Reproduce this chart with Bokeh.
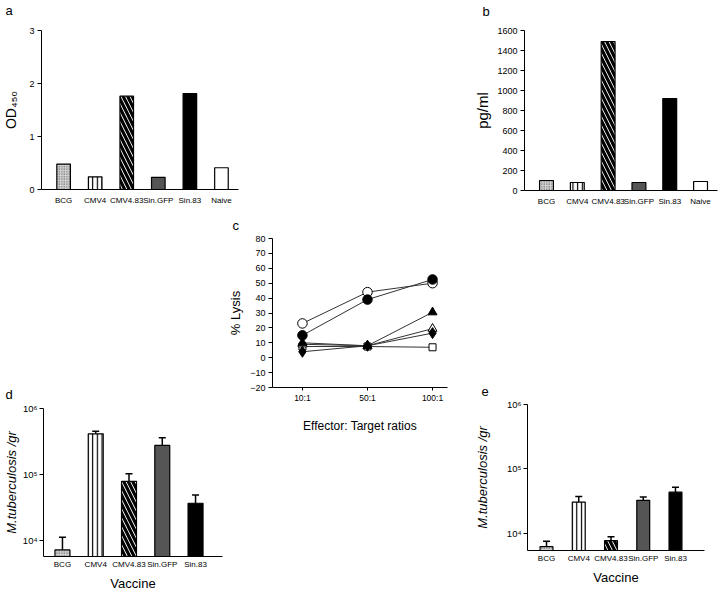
from bokeh.plotting import figure
from bokeh.layouts import row, column
from bokeh.models import (Range1d, FixedTicker, Whisker, TeeHead, ColumnDataSource,
                          Spacer, Title)
from bokeh.embed import file_html
from bokeh.resources import INLINE

FONT = "Liberation Sans"

# ---------------- data ----------------
groups_ab = ["BCG", "CMV4", "CMV4.83", "Sin.GFP", "Sin.83", "Naive"]
od450 = [0.48, 0.24, 1.76, 0.23, 1.81, 0.41]
ifn_pg_ml = [100, 80, 1490, 80, 920, 90]

ratios = ["10:1", "50:1", "100:1"]
lysis_open_circle = [23, 44, 50]
lysis_filled_circle = [15, 39, 52.5]
lysis_filled_triangle = [10, 8, 30.5]
lysis_open_triangle = [9, 8, 19.5]
lysis_filled_diamond = [4, 8, 16.5]
lysis_open_square = [7.5, 7.5, 7]

groups_de = ["BCG", "CMV4", "CMV4.83", "Sin.GFP", "Sin.83"]
cfu_d = [7200, 414000, 79000, 276000, 36700]
cfu_d_upper = [11200, 453000, 103000, 360000, 49000]
cfu_e = [6240, 30700, 7730, 32700, 43700]
cfu_e_upper = [7600, 37500, 8900, 36700, 52000]

# ---------------- styles ----------------
BAR_STYLE = {
    "BCG": dict(fill_color="#d4d4d4", hatch_pattern=".", hatch_color="#444444",
                hatch_scale=2.5, hatch_weight=0.8),
    "CMV4": dict(fill_color="white", hatch_pattern="|", hatch_color="black",
                 hatch_scale=4.7, hatch_weight=1.2),
    "CMV4.83": dict(fill_color="white", hatch_pattern="\\", hatch_color="black",
                    hatch_scale=9, hatch_weight=3.2),
    "Sin.GFP": dict(fill_color="#555555"),
    "Sin.83": dict(fill_color="black"),
    "Naive": dict(fill_color="white"),
}


def base_fig(frame_w, frame_h, borders, x_range, y_range, letter, letter_offset,
             gap, y_log=False):
    left, right, bottom = borders
    p = figure(frame_width=frame_w, frame_height=frame_h,
               x_range=x_range, y_range=y_range, title=None,
               y_axis_type="log" if y_log else "linear",
               output_backend="svg", toolbar_location=None,
               min_border_left=left, min_border_right=right,
               min_border_top=0, min_border_bottom=bottom)
    p.xgrid.visible = False
    p.ygrid.visible = False
    p.outline_line_color = None
    p.background_fill_color = "white"
    p.border_fill_color = "white"
    # white 1px spacer title next to the frame, then the panel letter above it
    p.add_layout(Title(text=".", text_color="white", text_font_size="1px",
                       standoff=gap), "above")
    p.add_layout(Title(text=letter, text_font=FONT, text_font_size="13px",
                       text_font_style="normal", text_color="black",
                       align="left", offset=letter_offset, standoff=0), "above")
    for ax in p.axis:
        ax.axis_line_color = "black"
        ax.axis_line_width = 1
        ax.major_tick_line_color = "black"
        ax.minor_tick_line_color = None
        ax.major_tick_in = 0
        ax.major_tick_out = 4
        ax.major_label_text_font = FONT
        ax.major_label_text_color = "black"
        ax.axis_label_text_font = FONT
        ax.axis_label_text_font_style = "normal"
        ax.axis_label_text_color = "black"
    return p


def add_bars(p, groups, values, bar_w, bottom):
    for i, (g, v) in enumerate(zip(groups, values)):
        p.vbar(x=[i], top=[v], bottom=bottom, width=bar_w,
               line_color="black", line_width=1.2, **BAR_STYLE[g])


def cat_xaxis(p, groups, label_size, standoff):
    p.xaxis.ticker = FixedTicker(ticks=list(range(len(groups))))
    p.xaxis.major_label_overrides = {i: g for i, g in enumerate(groups)}
    p.xaxis.major_tick_out = 0
    p.xaxis.major_label_text_font_size = label_size
    p.xaxis.major_label_standoff = standoff


# ---------------- panel a ----------------
pa = base_fig(197, 159, (41, 12, 26), Range1d(-0.7, 5.54), Range1d(0, 3),
              "a", -36, 10)
add_bars(pa, groups_ab, od450, 0.43, 0)
cat_xaxis(pa, groups_ab, "8px", 6)
pa.yaxis.ticker = FixedTicker(ticks=[0, 1, 2, 3])
pa.yaxis.major_label_text_font_size = "9px"
pa.yaxis.major_label_standoff = 3
pa.yaxis.axis_label = "OD\u2084\u2085\u2080"
pa.yaxis.axis_label_text_font_size = "14px"
pa.yaxis.axis_label_standoff = 7

# ---------------- panel b ----------------
pb = base_fig(193, 160, (274, 3, 26), Range1d(-0.714, 5.55), Range1d(0, 1600),
              "b", -42, 9)
add_bars(pb, groups_ab, ifn_pg_ml, 0.45, 0)
cat_xaxis(pb, groups_ab, "8px", 6)
pb.yaxis.ticker = FixedTicker(ticks=list(range(0, 1601, 200)))
pb.yaxis.major_label_text_font_size = "9px"
pb.yaxis.major_label_standoff = 3
pb.yaxis.axis_label = "pg/ml"
pb.yaxis.axis_label_text_font_size = "15px"
pb.yaxis.axis_label_standoff = 3

# ---------------- panel c ----------------
pc = base_fig(175, 149, (47, 23, 205), Range1d(-0.46, 2.23), Range1d(-20, 80),
              "c", -40, 3)
xs = list(range(len(ratios)))
series = [
    (lysis_open_square, "square", 7, "white"),
    (lysis_open_triangle, "triangle", 9, "white"),
    (lysis_filled_triangle, "triangle", 9, "black"),
    (lysis_filled_diamond, "diamond", 11, "black"),
    (lysis_open_circle, "circle", 9.5, "white"),
    (lysis_filled_circle, "circle", 9.5, "black"),
]
for vals, mk, sz, fc in series:
    pc.line(xs, vals, line_color="#333333", line_width=1)
for vals, mk, sz, fc in series:
    pc.scatter(xs, vals, marker=mk, size=sz, fill_color=fc, line_color="black",
               line_width=1)
pc.xaxis.ticker = FixedTicker(ticks=xs)
pc.xaxis.major_label_overrides = {i: r for i, r in enumerate(ratios)}
pc.xaxis.major_tick_out = 3
pc.xaxis.major_label_standoff = 2
pc.xaxis.major_label_text_font_size = "8.5px"
pc.xaxis.axis_label = "Effector: Target ratios"
pc.xaxis.axis_label_text_font_size = "12px"
pc.xaxis.axis_label_standoff = 13
pc.yaxis.ticker = FixedTicker(ticks=list(range(-20, 81, 10)))
pc.yaxis.major_label_text_font_size = "9px"
pc.yaxis.major_label_standoff = 3
pc.yaxis.axis_label = "% Lysis"
pc.yaxis.axis_label_text_font_size = "13px"
pc.yaxis.axis_label_standoff = 4


# ---------------- panels d, e ----------------
def cfu_panel(frame_w, frame_h, borders, xr, yr, groups, vals, upper, bar_w,
              letter, letter_offset, gap, ylab_standoff):
    p = base_fig(frame_w, frame_h, borders, xr, yr, letter, letter_offset, gap,
                 y_log=True)
    add_bars(p, groups, vals, bar_w, 1000)
    src = ColumnDataSource(dict(x=list(range(len(groups))), lower=vals, upper=upper))
    w = Whisker(source=src, base="x", lower="lower", upper="upper",
                dimension="height", line_color="black", line_width=1.5,
                lower_head=None,
                upper_head=TeeHead(size=7, line_color="black", line_width=1.5))
    p.add_layout(w)
    cat_xaxis(p, groups, "8px", 3)
    p.xaxis.axis_label = "Vaccine"
    p.xaxis.axis_label_text_font_size = "13px"
    p.xaxis.axis_label_standoff = 4
    p.yaxis.ticker = FixedTicker(ticks=[1e4, 1e5, 1e6])
    p.yaxis.major_label_overrides = {10000: "10\u2074", 100000: "10\u2075",
                                     1000000: "10\u2076"}
    p.yaxis.major_label_text_font_size = "9.5px"
    p.yaxis.major_tick_out = 4
    p.yaxis.major_label_standoff = 2
    p.yaxis.axis_label = "M.tuberculosis /gr"
    p.yaxis.axis_label_text_font_size = "13px"
    p.yaxis.axis_label_text_font_style = "italic"
    p.yaxis.axis_label_standoff = ylab_standoff
    return p


pd_ = cfu_panel(179, 148, (43, 3, 36), Range1d(-0.57, 4.81), Range1d(5730, 1e6),
                groups_de, cfu_d, cfu_d_upper, 0.45, "d", -38, 4, 1)
pe = cfu_panel(177, 146, (57, 16, 36), Range1d(-0.59, 4.9), Range1d(5450, 1e6),
               groups_de, cfu_e, cfu_e_upper, 0.4, "e", -46, 6, 14)

col_d = column(Spacer(width=225, height=169), pd_)
col_e = column(Spacer(width=250, height=169), pe)

layout = column(row(pa, pb), row(col_d, pc, col_e))

open("out.html", "w").write(file_html(layout, INLINE))
